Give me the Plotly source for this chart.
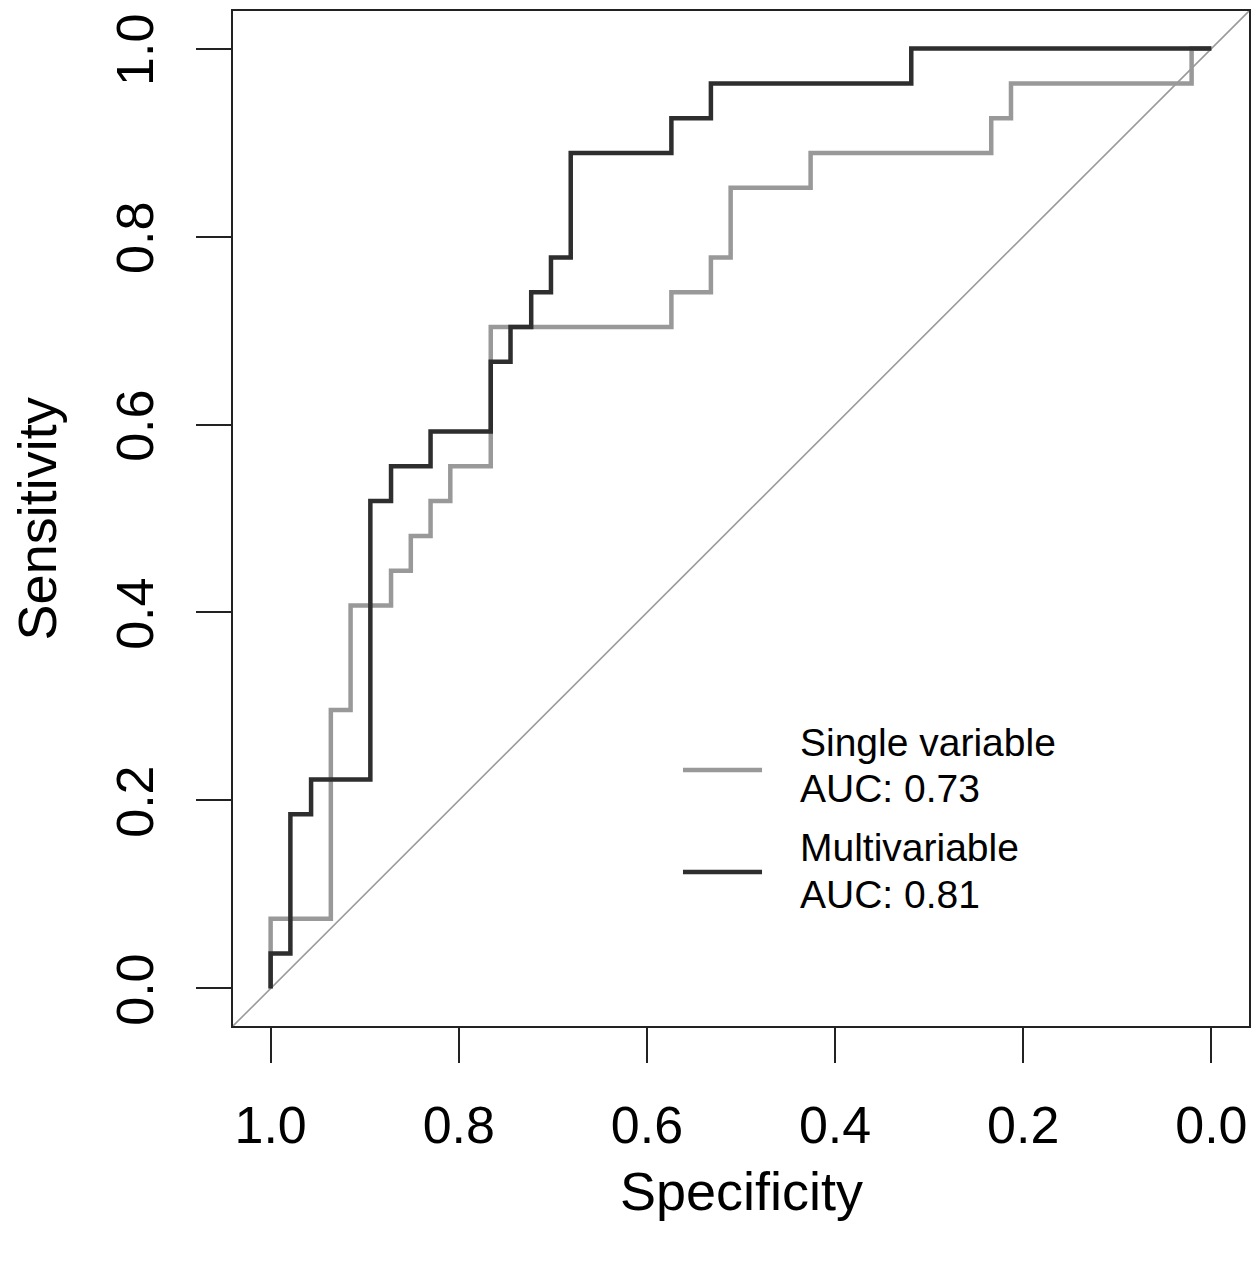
import plotly.graph_objects as go

# ---- data ----
N_POS = 27  # sensitivity steps are multiples of 1/27

multi_spec = [1.0, 0.979, 0.957, 0.894, 0.872, 0.830, 0.766, 0.745, 0.723, 0.702, 0.681, 0.574, 0.532, 0.319, 0.0]
multi_tp = [0, 1, 5, 6, 14, 15, 16, 18, 19, 20, 21, 24, 25, 26, 27]

single_spec = [1.0, 0.936, 0.915, 0.872, 0.851, 0.830, 0.809, 0.766, 0.574, 0.532, 0.511, 0.426, 0.234, 0.213, 0.021, 0.0]
single_tp = [0, 2, 8, 11, 12, 13, 14, 15, 19, 20, 21, 23, 24, 25, 26, 27]

multi_sens = [v / N_POS for v in multi_tp]
single_sens = [v / N_POS for v in single_tp]

tick_vals = [1.0, 0.8, 0.6, 0.4, 0.2, 0.0]
tick_text = ["1.0", "0.8", "0.6", "0.4", "0.2", "0.0"]
y_tick_vals = [0.0, 0.2, 0.4, 0.6, 0.8, 1.0]
y_tick_text = ["0.0", "0.2", "0.4", "0.6", "0.8", "1.0"]

legend_labels = [("Single variable", "AUC: 0.73"), ("Multivariable", "AUC: 0.81")]

AX_RANGE = [-0.04, 1.04]
GREY = "#999999"
DARK = "#2e2e2e"
FONT = "Liberation Sans, Arial, Helvetica, sans-serif"

fig = go.Figure()

# chance diagonal across the full plotting region
fig.add_trace(go.Scatter(x=[AX_RANGE[1], AX_RANGE[0]], y=[AX_RANGE[0], AX_RANGE[1]],
                         mode="lines", line=dict(color="#9a9a9a", width=1.6),
                         hoverinfo="skip", showlegend=False))

fig.add_trace(go.Scatter(x=single_spec, y=single_sens, mode="lines",
                         line=dict(color=GREY, width=4.5, shape="vh"),
                         name="Single variable", showlegend=False))
fig.add_trace(go.Scatter(x=multi_spec, y=multi_sens, mode="lines",
                         line=dict(color=DARK, width=4.5, shape="vh"),
                         name="Multivariable", showlegend=False))

axis_common = dict(
    showgrid=False, zeroline=False, showline=True, linewidth=2, linecolor="#222222",
    mirror=True, ticks="outside", ticklen=35, tickwidth=2, tickcolor="#222222",
    automargin=False, ticklabeloverflow="allow",
    tickfont=dict(family=FONT, size=52, color="black"),
)

fig.update_xaxes(range=[AX_RANGE[1], AX_RANGE[0]], tickvals=tick_vals, ticktext=tick_text,
                 ticklabelstandoff=18, **axis_common)
fig.update_yaxes(range=AX_RANGE, tickvals=y_tick_vals, ticktext=y_tick_text,
                 tickangle=-90, ticklabelstandoff=22, ticklabelshift=9, **axis_common)

annotations = [
    dict(text="Specificity", xref="paper", yref="paper", x=0.5, y=-0.163,
         xanchor="center", yanchor="middle", showarrow=False,
         font=dict(family=FONT, size=54, color="black")),
    dict(text="Sensitivity", xref="paper", yref="paper", x=-0.193, y=0.5,
         xanchor="center", yanchor="middle", textangle=-90, showarrow=False,
         font=dict(family=FONT, size=54, color="black")),
]

# manual legend
leg_text_y = [(0.2798, 0.2335), (0.1754, 0.1300)]
leg_line_y = [0.2522, 0.1517]
leg_colors = [GREY, DARK]
shapes = []
for (l1, l2), (y1, y2), ly, col in zip(legend_labels, leg_text_y, leg_line_y, leg_colors):
    annotations.append(dict(text=l1, xref="paper", yref="paper", x=0.556, y=y1,
                            xanchor="left", yanchor="middle", showarrow=False,
                            font=dict(family=FONT, size=39, color="black")))
    annotations.append(dict(text=l2, xref="paper", yref="paper", x=0.556, y=y2,
                            xanchor="left", yanchor="middle", showarrow=False,
                            font=dict(family=FONT, size=39, color="black")))
    shapes.append(dict(type="line", xref="paper", yref="paper", x0=0.4429, x1=0.5207,
                       y0=ly, y1=ly, line=dict(color=col, width=4.5)))

# page body has an 8px default margin, so the figure is sized to fit inside it
fig.update_layout(
    width=1252, height=1262,
    margin=dict(l=225, r=11, t=3, b=244),
    plot_bgcolor="white", paper_bgcolor="white",
    annotations=annotations, shapes=shapes,
    showlegend=False,
)

fig.write_html("out.html")
